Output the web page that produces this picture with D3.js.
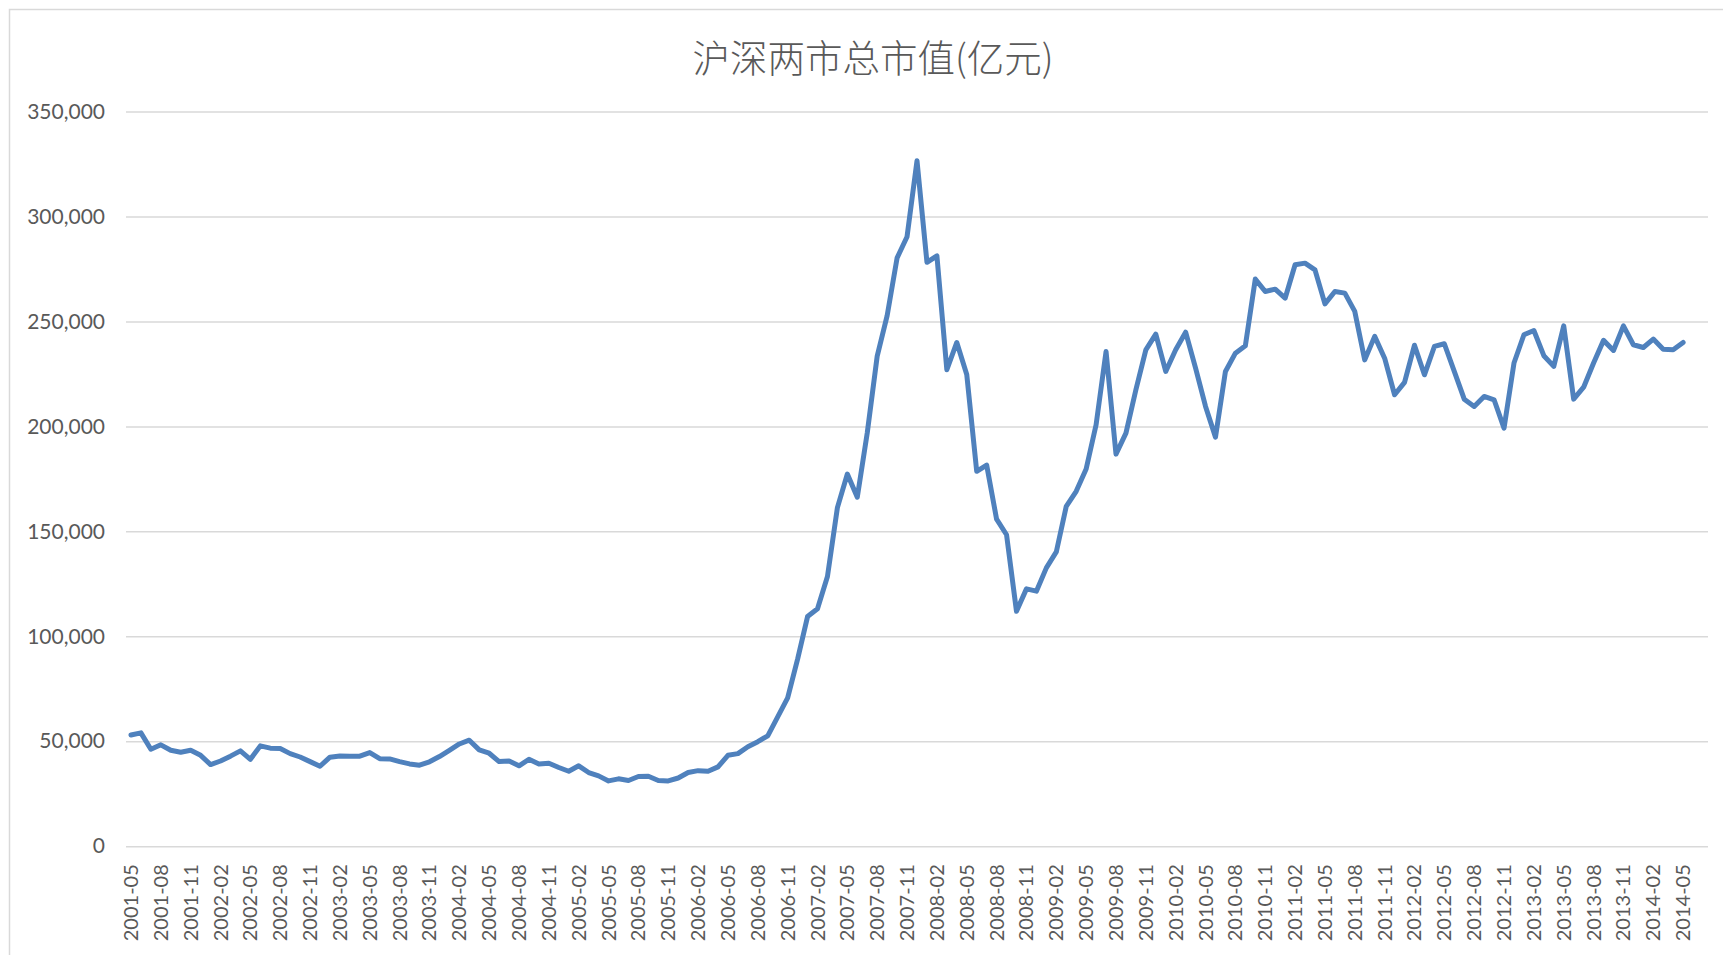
<!DOCTYPE html>
<html>
<head>
<meta charset="utf-8">
<script src="https://cdn.jsdelivr.net/npm/d3@7/dist/d3.min.js"></script>
<style>
  html, body { margin: 0; padding: 0; background: #ffffff; }
  svg { display: block; }
</style>
</head>
<body>
<script>
// ---------------- DATA ----------------
const title = "沪深两市总市值(亿元)";

// Monthly categories on the axis (2001-05 .. 2014-07); data present through 2014-05
const categories = [
  "2001-05","2001-06","2001-07","2001-08","2001-09","2001-10","2001-11","2001-12",
  "2002-01","2002-02","2002-03","2002-04","2002-05","2002-06","2002-07","2002-08","2002-09","2002-10","2002-11","2002-12",
  "2003-01","2003-02","2003-03","2003-04","2003-05","2003-06","2003-07","2003-08","2003-09","2003-10","2003-11","2003-12",
  "2004-01","2004-02","2004-03","2004-04","2004-05","2004-06","2004-07","2004-08","2004-09","2004-10","2004-11","2004-12",
  "2005-01","2005-02","2005-03","2005-04","2005-05","2005-06","2005-07","2005-08","2005-09","2005-10","2005-11","2005-12",
  "2006-01","2006-02","2006-03","2006-04","2006-05","2006-06","2006-07","2006-08","2006-09","2006-10","2006-11","2006-12",
  "2007-01","2007-02","2007-03","2007-04","2007-05","2007-06","2007-07","2007-08","2007-09","2007-10","2007-11","2007-12",
  "2008-01","2008-02","2008-03","2008-04","2008-05","2008-06","2008-07","2008-08","2008-09","2008-10","2008-11","2008-12",
  "2009-01","2009-02","2009-03","2009-04","2009-05","2009-06","2009-07","2009-08","2009-09","2009-10","2009-11","2009-12",
  "2010-01","2010-02","2010-03","2010-04","2010-05","2010-06","2010-07","2010-08","2010-09","2010-10","2010-11","2010-12",
  "2011-01","2011-02","2011-03","2011-04","2011-05","2011-06","2011-07","2011-08","2011-09","2011-10","2011-11","2011-12",
  "2012-01","2012-02","2012-03","2012-04","2012-05","2012-06","2012-07","2012-08","2012-09","2012-10","2012-11","2012-12",
  "2013-01","2013-02","2013-03","2013-04","2013-05","2013-06","2013-07","2013-08","2013-09","2013-10","2013-11","2013-12",
  "2014-01","2014-02","2014-03","2014-04","2014-05","2014-06","2014-07"
];

// Total market value (亿元), one value per month from 2001-05 to 2014-05
const marketValue = [
  53000, 54000, 46200, 48300, 45700, 44800, 45700, 43300, 38900, 40600,
  42900, 45400, 41400, 47800, 46700, 46500, 44100, 42500, 40300, 38100,
  42400, 43000, 42900, 42900, 44600, 41700, 41600, 40300, 39200, 38600,
  40200, 42700, 45700, 48700, 50500, 45900, 44300, 40300, 40600, 38300,
  41400, 39200, 39500, 37500, 35700, 38300, 35100, 33500, 31100, 32100,
  31300, 33200, 33300, 31300, 31100, 32500, 35100, 36000, 35700,
  37800, 43300, 44100, 47400, 49800, 52600, 61600, 70700, 89100, 109400,
  113100, 128500, 161300, 177300, 166300, 196900, 233500, 252800, 280300, 290400,
  326600, 278200, 281300, 227000, 240000, 224700, 178600, 181600, 155800, 148400,
  111900, 122600, 121500, 132600, 140200, 161900, 169100, 179700, 200800, 235700,
  186800, 196800, 217500, 236500, 244000, 226200, 236500, 244900, 227800, 209500,
  194900, 226200, 234900, 238400, 270200, 264300, 265400, 261100,
  277000, 277800, 274600, 258400, 264300, 263500, 254800, 231700, 242900, 232500,
  215100, 221000, 238700, 224600, 238100, 239400, 226200, 213000, 209500, 214300,
  212700, 199200, 230200, 243700, 245700, 233700, 228600, 247900,
  213000, 218700, 230200, 241000, 236200, 247900, 238900, 237600, 241600, 236800,
  236500, 240000
];

const yTicks = [0, 50000, 100000, 150000, 200000, 250000, 300000, 350000];
const xTickEvery = 3;

// ---------------- CHART ----------------
const W = 1723, H = 955;
const plot = { left: 126, right: 1708, top: 111.6, bottom: 846.2 };

const svg = d3.select("body").append("svg")
  .attr("width", W).attr("height", H);

// outer chart frame (only left and top edges visible)
svg.append("rect")
  .attr("x", 9.5).attr("y", 9.5)
  .attr("width", 2000).attr("height", 2000)
  .attr("fill", "none")
  .attr("stroke", "#d9d9d9")
  .attr("stroke-width", 1.5);

const x = d3.scaleBand()
  .domain(categories)
  .range([plot.left, plot.right])
  .paddingInner(0).paddingOuter(0);

const y = d3.scaleLinear()
  .domain([0, 350000])
  .range([plot.bottom, plot.top]);

const textColor = "#595959";
const axisFont = "Lato, 'Open Sans', sans-serif";

// gridlines + y labels
const yAxis = d3.axisLeft(y)
  .tickValues(yTicks)
  .tickFormat(d3.format(","))
  .tickSize(-(plot.right - plot.left))
  .tickPadding(21);

const gy = svg.append("g")
  .attr("transform", `translate(${plot.left},0)`)
  .call(yAxis);
gy.select(".domain").remove();
gy.selectAll(".tick line")
  .attr("stroke", "#d9d9d9")
  .attr("stroke-width", 1.5);
gy.selectAll(".tick text")
  .attr("fill", textColor)
  .style("font-family", axisFont)
  .style("font-size", "21px");

// x labels
const xAxis = d3.axisBottom(x)
  .tickValues(categories.filter((c, i) => i % xTickEvery === 0 && i < marketValue.length))
  .tickSize(0)
  .tickPadding(0);

const gx = svg.append("g")
  .attr("transform", `translate(0,${plot.bottom})`)
  .call(xAxis);
gx.select(".domain").remove();
gx.selectAll(".tick text")
  .attr("fill", textColor)
  .style("font-family", axisFont)
  .style("font-size", "20px")
  .attr("text-anchor", "end")
  .attr("dy", "0.35em")
  .attr("transform", "translate(0,18) rotate(-90)")
  .attr("x", 0)
  .attr("y", 0);

// line
const line = d3.line()
  .x((d, i) => x(categories[i]) + x.bandwidth() / 2)
  .y(d => y(d));

svg.append("path")
  .datum(marketValue)
  .attr("d", line)
  .attr("fill", "none")
  .attr("stroke", "#4f81bd")
  .attr("stroke-width", 5)
  .attr("stroke-linejoin", "round")
  .attr("stroke-linecap", "round");

// title
svg.append("text")
  .attr("x", 873)
  .attr("y", 55)
  .attr("text-anchor", "middle")
  .attr("dominant-baseline", "central")
  .attr("fill", textColor)
  .style("font-family", "'Noto Sans CJK SC', sans-serif")
  .style("font-weight", 300)
  .style("font-size", "37.5px")
  .text(title);
</script>
</body>
</html>
